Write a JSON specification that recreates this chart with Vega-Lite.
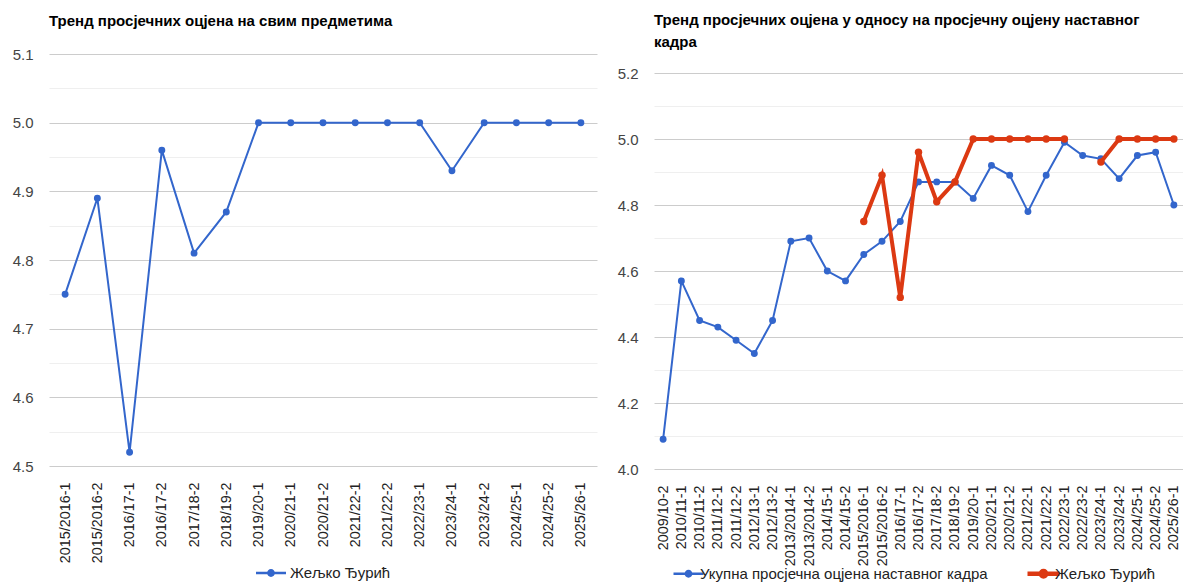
{
  "$schema": "https://vega.github.io/schema/vega-lite/v6.json",
  "padding": {"left": 12, "top": 13, "right": 0, "bottom": 0},
  "spacing": 20,
  "background": "white",
  "config": {
    "font": "Liberation Sans",
    "view": {"stroke": null},
    "axis": {"domain": false, "ticks": false, "labelFont": "Liberation Sans", "labelFontSize": 15, "title": null},
    "axisX": {"grid": false, "labelAngle": 270, "labelColor": "#222222", "labelPadding": 16, "labelFontSize": 14.4},
    "axisY": {"grid": true, "labelColor": "#444444", "labelPadding": 16},
    "title": {"font": "Liberation Sans", "fontSize": 15, "fontWeight": "bold", "color": "#000000", "anchor": "start", "frame": "group"},
    "legend": {"labelFont": "Liberation Sans", "labelFontSize": 15, "labelColor": "#222222", "labelLimit": 600, "symbolSize": 900, "labelOffset": 4, "columnPadding": 36, "layout": {"bottom": {"anchor": "middle"}}}
  },
  "datasets": {
    "left": [
      {"term": "2015/2016-1", "series": "Жељко Ђурић", "value": 4.75},
      {"term": "2015/2016-2", "series": "Жељко Ђурић", "value": 4.89},
      {"term": "2016/17-1", "series": "Жељко Ђурић", "value": 4.52},
      {"term": "2016/17-2", "series": "Жељко Ђурић", "value": 4.96},
      {"term": "2017/18-2", "series": "Жељко Ђурић", "value": 4.81},
      {"term": "2018/19-2", "series": "Жељко Ђурић", "value": 4.87},
      {"term": "2019/20-1", "series": "Жељко Ђурић", "value": 5.0},
      {"term": "2020/21-1", "series": "Жељко Ђурић", "value": 5.0},
      {"term": "2020/21-2", "series": "Жељко Ђурић", "value": 5.0},
      {"term": "2021/22-1", "series": "Жељко Ђурић", "value": 5.0},
      {"term": "2021/22-2", "series": "Жељко Ђурић", "value": 5.0},
      {"term": "2022/23-1", "series": "Жељко Ђурић", "value": 5.0},
      {"term": "2023/24-1", "series": "Жељко Ђурић", "value": 4.93},
      {"term": "2023/24-2", "series": "Жељко Ђурић", "value": 5.0},
      {"term": "2024/25-1", "series": "Жељко Ђурић", "value": 5.0},
      {"term": "2024/25-2", "series": "Жељко Ђурић", "value": 5.0},
      {"term": "2025/26-1", "series": "Жељко Ђурић", "value": 5.0}
    ],
    "right": [
      {"term": "2009/10-2", "series": "Укупна просјечна оцјена наставног кадра", "value": 4.09},
      {"term": "2010/11-1", "series": "Укупна просјечна оцјена наставног кадра", "value": 4.57},
      {"term": "2010/11-2", "series": "Укупна просјечна оцјена наставног кадра", "value": 4.45},
      {"term": "2011/12-1", "series": "Укупна просјечна оцјена наставног кадра", "value": 4.43},
      {"term": "2011/12-2", "series": "Укупна просјечна оцјена наставног кадра", "value": 4.39},
      {"term": "2012/13-1", "series": "Укупна просјечна оцјена наставног кадра", "value": 4.35},
      {"term": "2012/13-2", "series": "Укупна просјечна оцјена наставног кадра", "value": 4.45},
      {"term": "2013/2014-1", "series": "Укупна просјечна оцјена наставног кадра", "value": 4.69},
      {"term": "2013/2014-2", "series": "Укупна просјечна оцјена наставног кадра", "value": 4.70},
      {"term": "2014/15-1", "series": "Укупна просјечна оцјена наставног кадра", "value": 4.60},
      {"term": "2014/15-2", "series": "Укупна просјечна оцјена наставног кадра", "value": 4.57},
      {"term": "2015/2016-1", "series": "Укупна просјечна оцјена наставног кадра", "value": 4.65},
      {"term": "2015/2016-2", "series": "Укупна просјечна оцјена наставног кадра", "value": 4.69},
      {"term": "2016/17-1", "series": "Укупна просјечна оцјена наставног кадра", "value": 4.75},
      {"term": "2016/17-2", "series": "Укупна просјечна оцјена наставног кадра", "value": 4.87},
      {"term": "2017/18-2", "series": "Укупна просјечна оцјена наставног кадра", "value": 4.87},
      {"term": "2018/19-2", "series": "Укупна просјечна оцјена наставног кадра", "value": 4.87},
      {"term": "2019/20-1", "series": "Укупна просјечна оцјена наставног кадра", "value": 4.82},
      {"term": "2020/21-1", "series": "Укупна просјечна оцјена наставног кадра", "value": 4.92},
      {"term": "2020/21-2", "series": "Укупна просјечна оцјена наставног кадра", "value": 4.89},
      {"term": "2021/22-1", "series": "Укупна просјечна оцјена наставног кадра", "value": 4.78},
      {"term": "2021/22-2", "series": "Укупна просјечна оцјена наставног кадра", "value": 4.89},
      {"term": "2022/23-1", "series": "Укупна просјечна оцјена наставног кадра", "value": 4.99},
      {"term": "2022/23-2", "series": "Укупна просјечна оцјена наставног кадра", "value": 4.95},
      {"term": "2023/24-1", "series": "Укупна просјечна оцјена наставног кадра", "value": 4.94},
      {"term": "2023/24-2", "series": "Укупна просјечна оцјена наставног кадра", "value": 4.88},
      {"term": "2024/25-1", "series": "Укупна просјечна оцјена наставног кадра", "value": 4.95},
      {"term": "2024/25-2", "series": "Укупна просјечна оцјена наставног кадра", "value": 4.96},
      {"term": "2025/26-1", "series": "Укупна просјечна оцјена наставног кадра", "value": 4.80},
      {"term": "2015/2016-1", "series": "Жељко Ђурић", "value": 4.75},
      {"term": "2015/2016-2", "series": "Жељко Ђурић", "value": 4.89},
      {"term": "2016/17-1", "series": "Жељко Ђурић", "value": 4.52},
      {"term": "2016/17-2", "series": "Жељко Ђурић", "value": 4.96},
      {"term": "2017/18-2", "series": "Жељко Ђурић", "value": 4.81},
      {"term": "2018/19-2", "series": "Жељко Ђурић", "value": 4.87},
      {"term": "2019/20-1", "series": "Жељко Ђурић", "value": 5.0},
      {"term": "2020/21-1", "series": "Жељко Ђурић", "value": 5.0},
      {"term": "2020/21-2", "series": "Жељко Ђурић", "value": 5.0},
      {"term": "2021/22-1", "series": "Жељко Ђурић", "value": 5.0},
      {"term": "2021/22-2", "series": "Жељко Ђурић", "value": 5.0},
      {"term": "2022/23-1", "series": "Жељко Ђурић", "value": 5.0},
      {"term": "2022/23-2", "series": "Жељко Ђурић", "value": null},
      {"term": "2023/24-1", "series": "Жељко Ђурић", "value": 4.93},
      {"term": "2023/24-2", "series": "Жељко Ђурић", "value": 5.0},
      {"term": "2024/25-1", "series": "Жељко Ђурић", "value": 5.0},
      {"term": "2024/25-2", "series": "Жељко Ђурић", "value": 5.0},
      {"term": "2025/26-1", "series": "Жељко Ђурић", "value": 5.0}
    ]
  },
  "hconcat": [
    {
      "width": 548,
      "height": 412,
      "title": {"text": "Тренд просјечних оцјена на свим предметима", "offset": 18},
      "data": {"name": "left"},
      "encoding": {
        "x": {"field": "term", "type": "nominal", "sort": null},
        "y": {
          "field": "value", "type": "quantitative",
          "scale": {"domain": [4.5, 5.1], "nice": false, "zero": false},
          "axis": {
            "values": [4.5, 4.55, 4.6, 4.65, 4.7, 4.75, 4.8, 4.85, 4.9, 4.95, 5.0, 5.05, 5.1],
            "labelExpr": "round(datum.value*20) % 2 == 0 ? format(datum.value, '.1f') : ''",
            "gridColor": {"condition": {"test": "round(datum.value*20) % 2 == 1", "value": "#efefef"}, "value": "#cccccc"}
          }
        },
        "color": {
          "field": "series", "type": "nominal",
          "scale": {"domain": ["Жељко Ђурић"], "range": ["#3366cc"]},
          "legend": {
            "orient": "bottom", "direction": "horizontal", "title": null, "offset": -5,
            "symbolType": "M-1,-0.09H1V0.09H-1Z M0.26,0 A0.26,0.26 0 1,1 -0.26,0 A0.26,0.26 0 1,1 0.26,0Z",
            "encode": {"symbols": {"update": {"fill": {"value": "#3366cc"}, "stroke": {"value": "#3366cc"}, "strokeWidth": {"value": 0}, "opacity": {"value": 1}}}}
          }
        }
      },
      "layer": [
        {"mark": {"type": "line", "strokeWidth": 2}},
        {"mark": {"type": "circle", "size": 48, "opacity": 1}}
      ]
    },
    {
      "width": 529,
      "height": 415,
      "title": {"text": ["Тренд просјечних оцјена у односу на просјечну оцјену наставног", "кадра"], "lineHeight": 22, "offset": 4},
      "data": {"name": "right"},
      "encoding": {
        "x": {"field": "term", "type": "nominal", "sort": null},
        "y": {
          "field": "value", "type": "quantitative",
          "scale": {"domain": [4.0, 5.2576], "nice": false, "zero": false},
          "axis": {
            "values": [4.0, 4.1, 4.2, 4.3, 4.4, 4.5, 4.6, 4.7, 4.8, 4.9, 5.0, 5.1, 5.2],
            "labelExpr": "round(datum.value*10) % 2 == 0 ? format(datum.value, '.1f') : ''",
            "gridColor": {"condition": {"test": "round(datum.value*10) % 2 == 1", "value": "#efefef"}, "value": "#cccccc"}
          }
        },
        "color": {
          "field": "series", "type": "nominal",
          "scale": {"domain": ["Укупна просјечна оцјена наставног кадра", "Жељко Ђурић"], "range": ["#3366cc", "#dc3912"]},
          "legend": {
            "orient": "bottom", "direction": "horizontal", "title": null, "offset": 0,
            "symbolType": "M-1,-0.09H1V0.09H-1Z M0.26,0 A0.26,0.26 0 1,1 -0.26,0 A0.26,0.26 0 1,1 0.26,0Z",
            "encode": {"symbols": {"update": {
              "fill": {"signal": "datum.value === 'Жељко Ђурић' ? '#dc3912' : '#3366cc'"},
              "stroke": {"signal": "datum.value === 'Жељко Ђурић' ? '#dc3912' : '#3366cc'"},
              "strokeWidth": {"signal": "datum.value === 'Жељко Ђурић' ? 2 : 0"},
              "opacity": {"value": 1}
            }}}
          }
        }
      },
      "layer": [
        {"transform": [{"filter": "datum.series !== 'Жељко Ђурић'"}], "mark": {"type": "line", "strokeWidth": 2}},
        {"transform": [{"filter": "datum.series !== 'Жељко Ђурић'"}], "mark": {"type": "circle", "size": 48, "opacity": 1}},
        {"transform": [{"filter": "datum.series === 'Жељко Ђурић'"}], "mark": {"type": "line", "strokeWidth": 4, "invalid": "break-paths-show-domains"}},
        {"transform": [{"filter": "datum.series === 'Жељко Ђурић' && isValid(datum.value)"}], "mark": {"type": "circle", "size": 55, "opacity": 1}}
      ]
    }
  ],
  "resolve": {"scale": {"color": "independent", "x": "independent", "y": "independent"}, "legend": {"color": "independent"}}
}
